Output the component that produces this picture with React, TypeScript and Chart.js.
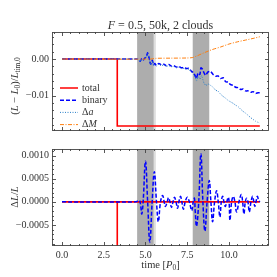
import { useEffect, useRef } from "react";
import { Chart, registerables } from "chart.js";
Chart.register(...registerables);

const FONT = '"Liberation Serif", "Times New Roman", serif';
const TXT = "#333333";
const FRAME = "#444444";

// ---------- top panel data: (L - L0)/L_tim,0 ----------
const totalTopT = [0, 3.31, 3.31, 11.85];
const totalTopV = [0, 0, -0.0183, -0.0183];

const binaryT = [0, 4.5, 4.6, 4.68, 4.77, 4.85, 4.95, 5.05, 5.13, 5.22, 5.31, 5.41, 5.48, 5.56, 5.65, 5.8, 5.95, 6.1, 6.25, 6.4, 6.55, 6.7, 6.85, 7.0, 7.15, 7.3, 7.45, 7.6, 7.75, 7.88, 7.98, 8.06, 8.15, 8.26, 8.32, 8.42, 8.5, 8.6, 8.75, 8.9, 9.05, 9.2, 9.35, 9.5, 9.65, 9.8, 9.95, 10.1, 10.25, 10.4, 10.55, 10.7, 10.85, 11.0, 11.15, 11.3, 11.45, 11.6, 11.75, 11.85];
const binaryV = [0, 0, -0.0002, -0.0006, 0.0001, -0.0003, 0.0002, 0.0006, 0.0017, 0.0002, -0.0014, -0.0003, -0.0016, -0.0012, -0.0017, -0.0012, -0.0016, -0.0014, -0.0018, -0.0015, -0.0019, -0.0018, -0.0022, -0.002, -0.0024, -0.0023, -0.0026, -0.0025, -0.0033, -0.0038, -0.0046, -0.0053, -0.0038, -0.0042, -0.0024, -0.0028, -0.0037, -0.0044, -0.0035, -0.0034, -0.0042, -0.0047, -0.0046, -0.0053, -0.0051, -0.0062, -0.0063, -0.007, -0.0072, -0.0077, -0.0078, -0.0083, -0.0082, -0.0087, -0.0087, -0.0091, -0.0089, -0.0094, -0.0092, -0.0092];

const deltaAT = [0, 4.5, 4.6, 4.68, 4.77, 4.85, 4.95, 5.05, 5.13, 5.22, 5.31, 5.41, 5.48, 5.56, 5.65, 5.8, 5.95, 6.1, 6.25, 6.4, 6.55, 6.7, 6.85, 7.0, 7.15, 7.3, 7.45, 7.6, 7.75, 7.88, 7.98, 8.06, 8.15, 8.26, 8.36, 8.5, 8.62, 8.75, 8.9, 9.05, 9.2, 9.35, 9.5, 9.65, 9.8, 9.95, 10.1, 10.25, 10.4, 10.55, 10.7, 10.85, 11.0, 11.15, 11.3, 11.45, 11.6, 11.75, 11.85];
const deltaAV = [0, 0, -0.0002, -0.0007, 0.0, -0.0004, 0.0001, 0.0005, 0.0015, 0.0, -0.0016, -0.0005, -0.0018, -0.0014, -0.0019, -0.0014, -0.0018, -0.0016, -0.002, -0.0018, -0.0021, -0.002, -0.0024, -0.0022, -0.0026, -0.0025, -0.0028, -0.0028, -0.0036, -0.0042, -0.005, -0.006, -0.0046, -0.0055, -0.0045, -0.0065, -0.0072, -0.0068, -0.0072, -0.0077, -0.0085, -0.0088, -0.0096, -0.0102, -0.0107, -0.0113, -0.0117, -0.0121, -0.0126, -0.013, -0.0137, -0.0143, -0.0148, -0.0154, -0.016, -0.0165, -0.017, -0.0173, -0.0175];

const deltaMT = [0, 5.3, 5.6, 6.5, 7.5, 7.8, 8.1, 8.5, 9.0, 9.5, 10.0, 10.5, 11.0, 11.5, 11.85];
const deltaMV = [0, 0, 0.0002, 0.00025, 0.0003, 0.0004, 0.0009, 0.0017, 0.0026, 0.0033, 0.0041, 0.0047, 0.0052, 0.0057, 0.0061];

// ---------- bottom panel data: ΔL/L ----------
const totalBotT = [0, 3.31, 3.31, 3.31, 11.85];
const totalBotV = [0, 0, -0.003, 0, 0];

const dLT = [0, 4.4, 4.55, 4.65, 4.72, 4.78, 4.86, 5.0, 5.13, 5.26, 5.4, 5.53, 5.66, 5.77, 5.9, 6.03, 6.12, 6.2, 6.3, 6.38, 6.47, 6.56, 6.65, 6.74, 6.83, 6.92, 7.0, 7.1, 7.18, 7.27, 7.38, 7.5, 7.63, 7.77, 7.86, 7.93, 7.98, 8.06, 8.19, 8.32, 8.44, 8.56, 8.69, 8.82, 8.92, 9.02, 9.14, 9.26, 9.36, 9.46, 9.54, 9.62, 9.7, 9.78, 9.87, 9.96, 10.01, 10.06, 10.16, 10.26, 10.36, 10.46, 10.6, 10.74, 10.82, 10.9, 10.98, 11.06, 11.14, 11.22, 11.32, 11.42, 11.49, 11.55, 11.62, 11.7, 11.78, 11.85];
const dLV = [0, 0, 0.00002, 0.00003, -0.0001, -0.00026, 0, 0.00088, 0, -0.00087, 0, 0.00065, 0, -0.00043, 0, 0.00014, 0, -0.0001, 0, 0.00009, 0, -0.00012, 0, 0.0001, 0, -0.00014, 0, 0.00012, 0, -0.00016, 0, 0.0001, 0, -0.00019, 0, 0.00008, -0.0002, -0.00053, 0, 0.00104, 0, -0.00063, 0, 0.00046, 0, -0.00043, 0, 0.00024, 0, -0.00033, 0, 0.00012, 0, -0.0001, 0, 0.0001, 0, -0.0004, 0, 0.00012, 0, -0.00022, 0, 0.00016, 0, -0.00026, 0, 0.00008, 0, -0.00022, 0, 0.00012, 0, -0.0001, 0, 0.00012, 0.00003, 0];

const bands: [number, number, string][] = [
  [4.5, 5.5, "#adadad"],
  [5.5, 5.62, "#dedede"],
  [7.83, 8.82, "#adadad"],
];

const X_MIN = -0.6;
const X_MAX = 12.4;

type Seg = { t: string; it?: boolean; sub?: boolean };

function segFont(s: Seg, size: number) {
  const sz = s.sub ? size * 0.7 : size;
  return `${s.it ? "italic " : ""}${sz}px ${FONT}`;
}

function drawRich(ctx: CanvasRenderingContext2D, segs: Seg[], x: number, y: number, size: number, rot = 0, align: "center" | "left" = "center") {
  ctx.save();
  ctx.translate(x, y);
  ctx.rotate(rot);
  ctx.fillStyle = TXT;
  ctx.textBaseline = "middle";
  ctx.textAlign = "left";
  const widths = segs.map((s) => {
    ctx.font = segFont(s, size);
    return ctx.measureText(s.t).width;
  });
  const total = widths.reduce((a, b) => a + b, 0);
  let cx = align === "center" ? -total / 2 : 0;
  segs.forEach((s, i) => {
    ctx.font = segFont(s, size);
    ctx.fillText(s.t, cx, s.sub ? size * 0.3 : 0);
    cx += widths[i];
  });
  ctx.restore();
}

function pts(t: number[], v: number[]) {
  return t.map((x, i) => ({ x, y: v[i] }));
}

function makeDeco(yMajor: number, yMinor: number, extra: (chart: any) => void) {
  return {
    id: "deco",
    beforeDatasetsDraw(chart: any) {
      const { ctx, chartArea: a, scales } = chart;
      ctx.save();
      ctx.beginPath();
      ctx.rect(a.left, a.top, a.width, a.height);
      ctx.clip();
      bands.forEach(([s, e, c]) => {
        const x1 = scales.x.getPixelForValue(s);
        const x2 = scales.x.getPixelForValue(e);
        ctx.fillStyle = c;
        ctx.fillRect(x1, a.top, x2 - x1, a.height);
      });
      ctx.restore();
    },
    afterDraw(chart: any) {
      const { ctx, chartArea: a, scales } = chart;
      ctx.save();
      ctx.strokeStyle = FRAME;
      ctx.lineWidth = 0.9;
      const line = (x1: number, y1: number, x2: number, y2: number) => {
        ctx.beginPath();
        ctx.moveTo(x1, y1);
        ctx.lineTo(x2, y2);
        ctx.stroke();
      };
      const xs = Math.ceil(X_MIN / 0.5);
      const xe = Math.floor(X_MAX / 0.5);
      for (let k = xs; k <= xe; k++) {
        const v = k * 0.5;
        const L = k % 5 === 0 ? 4 : 2;
        const px = Math.round(scales.x.getPixelForValue(v)) + 0.5;
        line(px, a.bottom, px, a.bottom - L);
        line(px, a.top, px, a.top + L);
      }
      const ys = Math.ceil(scales.y.min / yMinor - 1e-9);
      const ye = Math.floor(scales.y.max / yMinor + 1e-9);
      const ratio = Math.round(yMajor / yMinor);
      for (let k = ys; k <= ye; k++) {
        const v = k * yMinor;
        const L = k % ratio === 0 ? 4 : 2;
        const py = Math.round(scales.y.getPixelForValue(v)) + 0.5;
        line(a.left, py, a.left + L, py);
        line(a.right, py, a.right - L, py);
      }
      ctx.strokeRect(a.left + 0.5, a.top + 0.5, a.width - 1, a.height - 1);
      ctx.restore();
      extra(chart);
    },
  };
}

function baseOptions(yMin: number, yMax: number, yStep: number, yFmt: (v: number) => string, showX: boolean) {
  return {
    animation: false,
    responsive: false,
    devicePixelRatio: 1,
    plugins: { legend: { display: false }, tooltip: { enabled: false }, title: { display: false } },
    elements: { point: { radius: 0 } },
    scales: {
      x: {
        type: "linear",
        min: X_MIN,
        max: X_MAX,
        display: showX,
        border: { display: false },
        grid: { display: false, drawTicks: false },
        afterFit: (s: any) => {
          s.height = showX ? 31 : 0;
        },
        ticks: {
          display: showX,
          stepSize: 2.5,
          includeBounds: false,
          padding: 3,
          color: TXT,
          font: { family: FONT, size: 10 },
          maxRotation: 0,
          autoSkip: false,
          callback: (v: any) => Number(v).toFixed(1),
        },
      },
      y: {
        type: "linear",
        min: yMin,
        max: yMax,
        border: { display: false },
        grid: { display: false, drawTicks: false },
        afterFit: (s: any) => {
          s.width = 52;
        },
        ticks: {
          stepSize: yStep,
          includeBounds: false,
          padding: 3,
          color: TXT,
          font: { family: FONT, size: 10 },
          autoSkip: false,
          callback: (v: any) => yFmt(Number(v)),
        },
      },
    },
  };
}

const fmtSigned = (v: number, d: number) => {
  const s = Math.abs(v) < 1e-12 ? (0).toFixed(d) : Math.abs(v).toFixed(d);
  return v < -1e-12 ? "\u2212" + s : s;
};

export default function App() {
  const topRef = useRef<HTMLCanvasElement>(null);
  const botRef = useRef<HTMLCanvasElement>(null);

  useEffect(() => {
    const topExtra = (chart: any) => {
      const { ctx, chartArea: a } = chart;
      const cx = (a.left + a.right) / 2;
      drawRich(ctx, [{ t: "F", it: true }, { t: " = 0.5, 50k, 2 clouds" }], cx, 26, 12);
      drawRich(
        ctx,
        [{ t: "(" }, { t: "L", it: true }, { t: " \u2212 " }, { t: "L", it: true }, { t: "0", sub: true }, { t: ")/" }, { t: "L", it: true }, { t: "tim,0", sub: true }],
        15,
        86,
        10.5,
        -Math.PI / 2
      );
      const entries: { segs: Seg[]; color: string; dash: number[]; w: number }[] = [
        { segs: [{ t: "total" }], color: "#ff0000", dash: [], w: 1.5 },
        { segs: [{ t: "binary" }], color: "#0000ff", dash: [4, 2], w: 1.5 },
        { segs: [{ t: "\u0394" }, { t: "a", it: true }], color: "#2a7fc8", dash: [1, 1.5], w: 1 },
        { segs: [{ t: "\u0394" }, { t: "M", it: true }], color: "#ff7f0e", dash: [4, 1.5, 1, 1.5], w: 1 },
      ];
      entries.forEach((e, i) => {
        const y = 88 + i * 12.2;
        ctx.save();
        ctx.strokeStyle = e.color;
        ctx.lineWidth = e.w;
        ctx.setLineDash(e.dash);
        ctx.beginPath();
        ctx.moveTo(60, y);
        ctx.lineTo(78, y);
        ctx.stroke();
        ctx.restore();
        drawRich(ctx, e.segs, 82, y, 10, 0, "left");
      });
    };
    const botExtra = (chart: any) => {
      const { ctx, chartArea: a } = chart;
      drawRich(ctx, [{ t: "\u0394" }, { t: "L", it: true }, { t: "/" }, { t: "L", it: true }], 15, 57, 10.5, -Math.PI / 2);
      drawRich(ctx, [{ t: "time [" }, { t: "P", it: true }, { t: "0", sub: true }, { t: "]" }], (a.left + a.right) / 2, 125, 10.5);
    };

    const topOpts: any = baseOptions(-0.01966, 0.0074, 0.01, (v) => fmtSigned(v, 2), false);
    topOpts.layout = { padding: { left: 0, right: 8, top: 32, bottom: 3 } };
    const top = new Chart(topRef.current!, {
      type: "line",
      data: {
        datasets: [
          { label: "total", data: pts(totalTopT, totalTopV), borderColor: "#ff0000", borderWidth: 1.6, tension: 0, order: 4 },
          { label: "binary", data: pts(binaryT, binaryV), borderColor: "#0000ff", borderWidth: 1.5, borderDash: [4, 2], tension: 0.2, order: 3 },
          { label: "\u0394a", data: pts(deltaAT, deltaAV), borderColor: "#2a7fc8", borderWidth: 1, borderDash: [1, 1.5], tension: 0.2, order: 2 },
          { label: "\u0394M", data: pts(deltaMT, deltaMV), borderColor: "#ff7f0e", borderWidth: 1, borderDash: [4, 1.5, 1, 1.5], tension: 0.3, order: 1 },
        ],
      },
      options: topOpts,
      plugins: [makeDeco(0.01, 0.002, topExtra)],
    });

    const botOpts: any = baseOptions(-0.000954, 0.001143, 0.0005, (v) => fmtSigned(v, 4), true);
    botOpts.layout = { padding: { left: 0, right: 8, top: 2, bottom: 0 } };
    const bot = new Chart(botRef.current!, {
      type: "line",
      data: {
        datasets: [
          { label: "total", data: pts(totalBotT, totalBotV), borderColor: "#ff0000", borderWidth: 1.6, tension: 0, order: 4 },
          { label: "binary", data: pts(dLT, dLV), borderColor: "#0000ff", borderWidth: 1.5, borderDash: [4, 2], tension: 0.4, order: 3 },
        ],
      },
      options: botOpts,
      plugins: [makeDeco(0.0005, 0.0001, botExtra)],
    });

    return () => {
      top.destroy();
      bot.destroy();
    };
  }, []);

  return (
    <div style={{ position: "fixed", left: 0, top: 0, width: 277, height: 277, background: "#ffffff" }}>
      <canvas ref={topRef} width={277} height={140} style={{ position: "absolute", left: 0, top: 0, width: 277, height: 140 }} />
      <canvas ref={botRef} width={277} height={137} style={{ position: "absolute", left: 0, top: 140, width: 277, height: 137 }} />
    </div>
  );
}
